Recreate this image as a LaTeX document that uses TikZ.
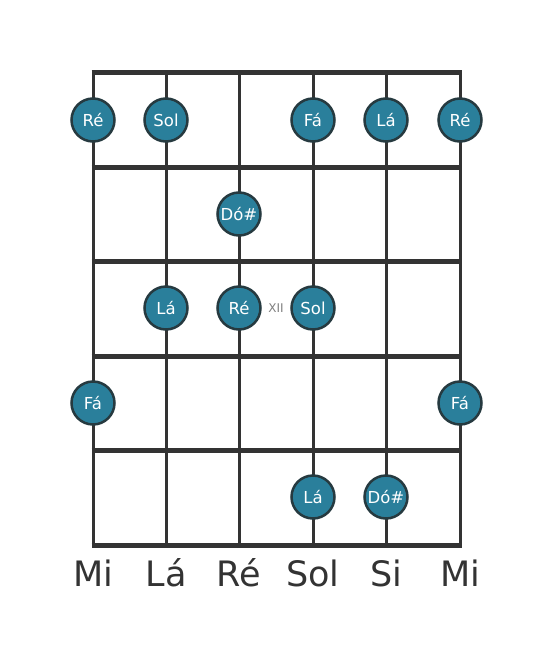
\documentclass[tikz,border=0pt]{standalone}
\usepackage{fontspec}
\setmainfont{DejaVu Sans}
\definecolor{notefill}{HTML}{2A7F9B}
\definecolor{noteline}{HTML}{263A40}
\definecolor{gridline}{HTML}{333333}
\tikzset{
  fret/.style={gridline,line width=5pt},
  stringline/.style={gridline,line width=3pt},
  note/.style={circle,fill=notefill,draw=noteline,line width=2.5pt,minimum size=43pt,inner sep=0pt,text=white,font=\fontsize{16.5}{18}\selectfont},
  tuning/.style={text=gridline,font=\fontsize{35}{40}\selectfont},
}
\begin{document}
\begin{tikzpicture}[x=1pt,y=-1pt]
                          \useasboundingbox (0,0) rectangle (553,656);
                          \coordinate (SA) at (93,72);
                          \coordinate (SB) at (166,72);
                          \coordinate (SC) at (239,72);
                          \coordinate (SD) at (313,72);
                          \coordinate (SE) at (386,72);
                          \coordinate (SF) at (460,72);
                          \coordinate (EA) at (93,545);
                          \coordinate (EB) at (166,545);
                          \coordinate (EC) at (239,545);
                          \coordinate (ED) at (313,545);
                          \coordinate (EE) at (386,545);
                          \coordinate (EF) at (460,545);
                          
                          \draw[stringline] (SA) -- (EA);
                          \draw[stringline] (SB) -- (EB);
                          \draw[stringline] (SC) -- (EC);
                          \draw[stringline] (SD) -- (ED);
                          \draw[stringline] (SE) -- (EE);
                          \draw[stringline] (SF) -- (EF);
                          
                          \draw[fret] (91.5,72) -- (461.5,72);
                          \draw[fret] (91.5,167) -- (461.5,167);
                          \draw[fret] (91.5,261) -- (461.5,261);
                          \draw[fret] (91.5,356) -- (461.5,356);
                          \draw[fret] (91.5,450) -- (461.5,450);
                          \draw[fret] (91.5,545) -- (461.5,545);
                          
                          \node[note] (n1a) at (93,120) {Ré};
                          \node[note] (n1b) at (166,120) {Sol};
                          \node[note] (n1d) at (313,120) {Fá};
                          \node[note] (n1e) at (386,120) {Lá};
                          \node[note] (n1f) at (460,120) {Ré};
                          
                          \node[note] (n2c) at (239,214) {Dó\#};
                          
                          \node[note] (n3b) at (166,308) {Lá};
                          \node[note] (n3c) at (239,308) {Ré};
                          \node[note] (n3d) at (313,308) {Sol};
                          \node[text=gray,font=\fontsize{12}{14}\selectfont] (xii) at (276,308) {XII};
                          
                          \node[note] (n4a) at (93,403) {Fá};
                          \node[note] (n4f) at (460,403) {Fá};
                          
                          \node[note] (n5d) at (313,497) {Lá};
                          \node[note] (n5e) at (386,497) {Dó\#};
                          
                          \node[tuning] (ta) at (93,573) {Mi};
                          \node[tuning] (tb) at (166,573) {Lá};
                          \node[tuning] (tc) at (239,573) {Ré};
                          \node[tuning] (td) at (313,573) {Sol};
                          \node[tuning] (te) at (386,573) {Si};
                          \node[tuning] (tf) at (460,573) {Mi};
                          \end{tikzpicture}
\end{document}
